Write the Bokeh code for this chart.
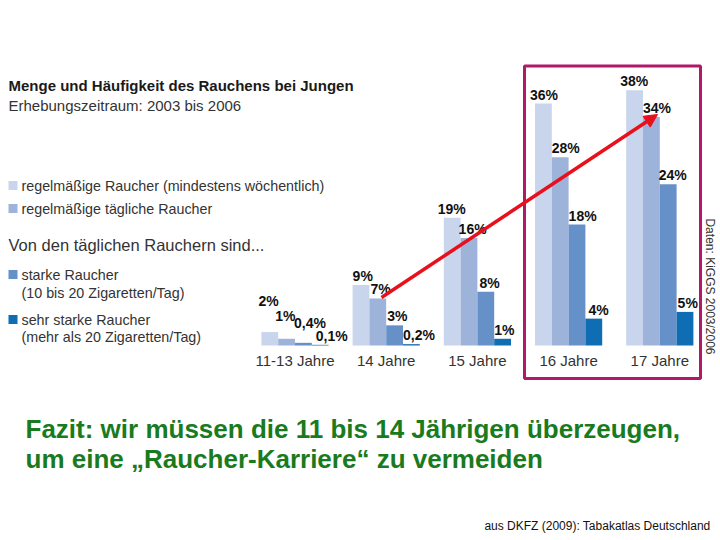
import math
from bokeh.plotting import figure
from bokeh.models import Range1d, ColumnDataSource, Arrow, NormalHead, Label
from bokeh.core.properties import value
from bokeh.embed import file_html
from bokeh.resources import INLINE

# ---- data ----
groups = ["11-13 Jahre", "14 Jahre", "15 Jahre", "16 Jahre", "17 Jahre"]
weekly = [2, 9, 19, 36, 38]
daily = [1, 7, 16, 28, 34]
strong = [0.4, 3, 8, 18, 24]
very_strong = [0.1, 0.2, 1, 4, 5]
series_names = ["regelmäßige Raucher (mindestens wöchentlich)", "regelmäßige tägliche Raucher",
                "starke Raucher", "sehr starke Raucher"]

def fmt(v):
    s = ("%g" % v).replace(".", ",")
    return s + "%"

# ---- layout helpers (page pixel -> data) ----
GC = 294.5      # page x of first group centre
GS = 91.2       # px per group
BASE = 345.0    # page y of baseline
PPU = 6.72      # px per percent
W, H = 720, 540

def X(px):
    return (px - GC) / GS

def Y(py):
    return (BASE - py) / PPU

p = figure(width=W, height=H, output_backend="svg", toolbar_location=None,
           x_range=Range1d(X(0), X(W)), y_range=Range1d(Y(H), Y(0)),
           min_border=0)
p.axis.visible = False
p.grid.visible = False
p.outline_line_color = None
p.background_fill_color = "white"

colors = ["#c9d5ec", "#9db3da", "#6690c8", "#0f6db3"]
bw = 16.8 / GS
offsets = [-1.5 * bw, -0.5 * bw, 0.5 * bw, 1.5 * bw]
all_series = [weekly, daily, strong, very_strong]

# label vertical lift (px) for crowded small bars
lift = [[22, 14, 11, 0], [0, 0, 0, 0], [0, 0, 0, 0], [0, 0, 0, 0], [0, 0, 0, 0]]
xshift = [[-3, -3, -1, 4], [0, 1, 1, 0], [-6, -2, 2, 0], [-5, 0, 0, 3], [-6, 0, -1, 1]]

for k, ser in enumerate(all_series):
    xs = [i + offsets[k] for i in range(len(groups))]
    src = ColumnDataSource(dict(x=xs, top=ser,
                                lx=[x - bw / 2 for x in xs],
                                txt=[fmt(v) for v in ser],
                                yo=[-(lift[i][k]) - 1 for i in range(len(groups))],
                                xo=[xshift[i][k] for i in range(len(groups))]))
    p.vbar(x="x", top="top", bottom=0, width=bw, source=src,
           fill_color=colors[k], line_color=None)
    p.text(x="lx", y="top", text="txt", source=src, x_offset="xo", y_offset="yo",
           text_font=value("Liberation Sans"), text_font_style="bold",
           text_font_size="14px", text_color="#111111",
           text_align="left", text_baseline="bottom")

# category labels
p.text(x=list(range(len(groups))), y=[Y(360)] * len(groups), text=groups,
       text_font=value("Liberation Sans"), text_font_size="15px", text_color="#333333",
       text_align="center", text_baseline="middle")

def lab(x, y, t, size="14px", style="normal", color="#222222", align="left", angle=0.0):
    p.add_layout(Label(x=X(x), y=Y(y), text=t, text_font="Liberation Sans",
                       text_font_size=size, text_font_style=style, text_color=color,
                       text_align=align, text_baseline="middle", angle=angle))

# title / subtitle
lab(8, 85, "Menge und Häufigkeit des Rauchens bei Jungen", size="15px", style="bold", color="#1a1a1a")
lab(8, 105, "Erhebungszeitraum: 2003 bis 2006", size="15px", color="#333333")

# legend
leg_y = [185, 208, 274, 319]
for k in range(4):
    p.rect(x=X(12.5), y=Y(leg_y[k]), width=9 / GS, height=9 / PPU,
           fill_color=colors[k], line_color=None)
lab(21, 185, series_names[0], size="14.3px", color="#333333")
lab(21, 208, series_names[1], size="14.3px", color="#333333")
lab(8, 244, "Von den täglichen Rauchern sind...", size="16.5px", color="#333333")
lab(21, 274, series_names[2], size="14.3px", color="#333333")
lab(21, 292, "(10 bis 20 Zigaretten/Tag)", size="14.3px", color="#333333")
lab(21, 319, series_names[3], size="14.3px", color="#333333")
lab(21, 336, "(mehr als 20 Zigaretten/Tag)", size="14.3px", color="#333333")

# source note vertical
lab(709, 286, "Daten: KiGGS 2003/2006", size="12px", color="#333333", align="center",
    angle=-math.pi / 2)

# magenta highlight box
p.quad(left=X(524), right=X(700), top=Y(65.5), bottom=Y(378),
       fill_color=None, line_color="#b0186a", line_width=3)

# red arrow
p.add_layout(Arrow(x_start=X(381), y_start=Y(297), x_end=X(657), y_end=Y(114),
                   line_color="#e8101c", line_width=3.5,
                   end=NormalHead(size=13, fill_color="#e8101c", line_color="#e8101c")))

# conclusion
lab(25, 428, "Fazit: wir müssen die 11 bis 14 Jährigen überzeugen,", size="26px",
    style="bold", color="#197b1e")
lab(25, 458, "um eine „Raucher-Karriere“ zu vermeiden", size="26px",
    style="bold", color="#197b1e")

lab(710, 525, "aus DKFZ (2009): Tabakatlas Deutschland", size="12px", color="#111111",
    align="right")

open("out.html", "w").write(file_html(p, INLINE))
